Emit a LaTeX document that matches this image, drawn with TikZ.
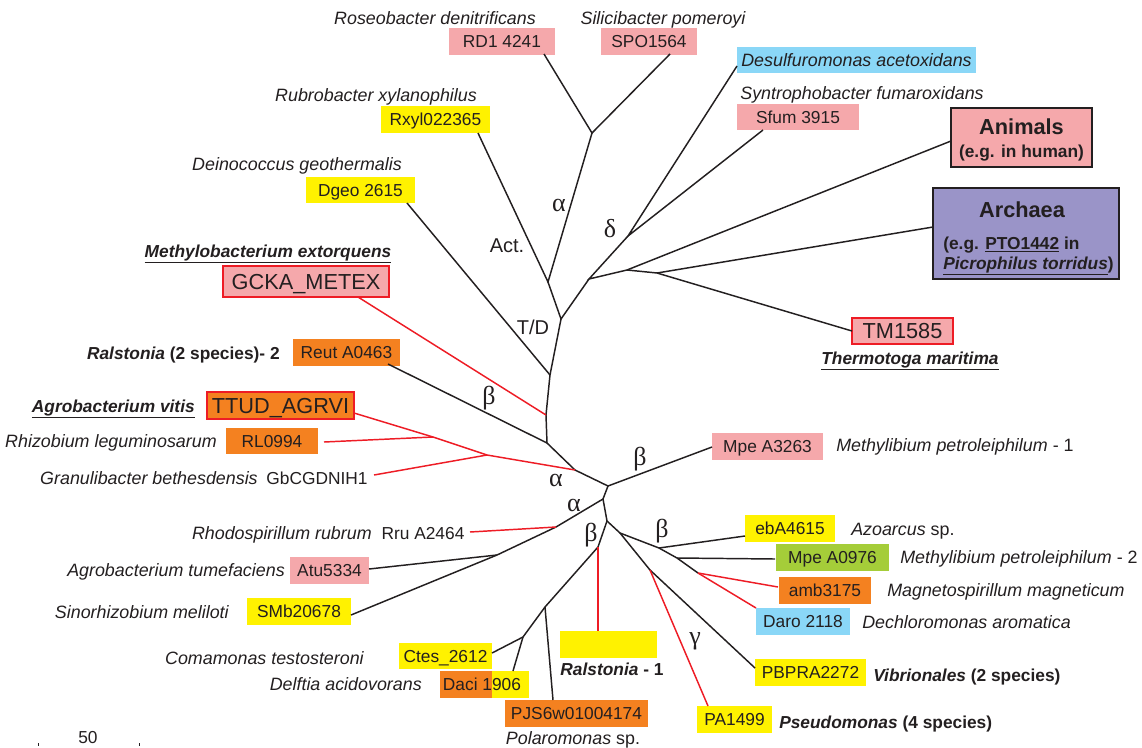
\documentclass[tikz,border=0pt]{standalone}
\usepackage{fontspec}
\setmainfont{Liberation Sans}
\newfontfamily\grkfont{Liberation Serif}
\definecolor{pinkc}{HTML}{F5A8AB}
\definecolor{yellowc}{HTML}{FFF200}
\definecolor{orangec}{HTML}{F48120}
\definecolor{bluec}{HTML}{8AD7F7}
\definecolor{greenc}{HTML}{A5CD39}
\definecolor{purplec}{HTML}{9A94C8}
\definecolor{redc}{HTML}{EE1C25}
\definecolor{txt}{HTML}{231F20}
\tikzset{
 branch/.style={line width=1.1pt, draw=txt},
 redbranch/.style={line width=1.1pt, draw=redc},
 lbl/.style={inner sep=0pt, text=txt, font=\fontsize{13}{15}\selectfont, text height=9.3pt, text depth=0pt},
 slbl/.style={lbl, font=\fontsize{13.4}{15}\selectfont, text height=9.6pt},
 ilbl/.style={lbl, font=\fontsize{13.4}{15}\selectfont\itshape, text height=9.6pt},
 blbl/.style={lbl, font=\fontsize{13}{15}\selectfont\bfseries},
 bilbl/.style={lbl, font=\fontsize{13}{15}\selectfont\bfseries\itshape},
 box/.style={lbl, minimum height=20.25pt},
 bigbox/.style={inner sep=0pt, text=txt, font=\fontsize{16.3}{18}\selectfont, text height=11.7pt, text depth=0pt, minimum height=23.25pt, draw=redc, line width=1.3pt},
 greek/.style={inner sep=0pt, text=txt, font=\fontsize{19.5}{21}\selectfont\grkfont},
 clade/.style={inner sep=0pt, text=txt, font=\fontsize{15}{17}\selectfont, text height=10.7pt, text depth=0pt}
}
\begin{document}
\begin{tikzpicture}[x=0.75pt,y=-0.75pt]
\useasboundingbox (0,0) rectangle (1142,747);
\fill[white] (0,0) rectangle (1142,747);

% ---- boxes ----
\node[box, fill=pinkc, minimum width=79.5pt] (rd1) at (502,41) {RD1 4241};
\node[box, fill=pinkc, minimum width=72pt] (spo) at (649,41) {SPO1564};
\node[box, fill=bluec, minimum width=179.25pt, minimum height=19.5pt, font=\fontsize{13.4}{15}\selectfont\itshape] (desulf) at (856.5,60) {Desulfuromonas acetoxidans};
\node[box, fill=pinkc, minimum width=91.5pt, minimum height=19.5pt] (sfum) at (798,117) {Sfum 3915\hspace{12pt}};
\node[draw=txt, line width=1.5pt, fill=pinkc, minimum width=105.75pt, minimum height=44.25pt, inner sep=0pt] (animals) at (1021.5,137.5) {};
\node[draw=txt, line width=1.5pt, fill=purplec, minimum width=139.5pt, minimum height=68.25pt, inner sep=0pt] (archaea) at (1026,233.5) {};
\node[bigbox, fill=pinkc, minimum width=75.75pt, minimum height=19.5pt] (tm) at (902.5,331) {TM1585};
\node[box, fill=yellowc, minimum width=81.75pt] (rxyl) at (435.5,119.5) {Rxyl022365};
\node[box, fill=yellowc, minimum width=81.75pt, minimum height=19.5pt] (dgeo) at (360.5,190) {Dgeo 2615};
\node[bigbox, fill=pinkc, minimum width=124.5pt] (gcka) at (306,281.5) {GCKA\_METEX};
\node[box, fill=orangec, minimum width=80.25pt] (reut) at (346.5,352.5) {Reut A0463};
\node[bigbox, fill=orangec, minimum width=110.25pt, minimum height=20.25pt] (ttud) at (280.5,405.5) {TTUD\_AGRVI};
\node[box, fill=orangec, minimum width=69pt, minimum height=19.5pt] (rl) at (272,441) {RL0994};
\node[box, fill=pinkc, minimum width=83.25pt] (mpea) at (767.5,446.5) {Mpe A3263};
\node[box, fill=yellowc, minimum width=67.5pt] (eba) at (790,528.5) {ebA4615};
\node[box, fill=greenc, minimum width=84.75pt] (mpeb) at (832.5,557.5) {Mpe A0976};
\node[box, fill=orangec, minimum width=69pt] (amb) at (825,590.5) {amb3175};
\node[box, fill=bluec, minimum width=70.5pt] (daro) at (803,621.5) {Daro 2118};
\node[box, fill=yellowc, minimum width=83.25pt] (pbpra) at (810.5,672.5) {PBPRA2272};
\node[box, fill=yellowc, minimum width=56.25pt] (pa) at (734.5,719.5) {PA1499};
\node[box, fill=pinkc, minimum width=59.25pt] (atu) at (329.5,570.5) {Atu5334};
\node[box, fill=yellowc, minimum width=78pt] (smb) at (299,611.5) {SMb20678};
\node[box, fill=yellowc, minimum width=69.75pt, minimum height=19.5pt] (ctes) at (445.5,656) {Ctes\_2612};
\fill[orangec] (440,671) rectangle (492,698);
\fill[yellowc] (492,671) rectangle (529,698);
\node[box, minimum width=66.75pt] (daci) at (482,684.5) {Daci 1906};
\node[box, fill=orangec, minimum width=107.25pt] (pjs) at (576.5,713.5) {PJS6w01004174};
\node[box, fill=yellowc, minimum width=72.75pt] (ralst) at (608.5,644.5) {};
\node[lbl] (gb) at (317,478) {GbCGDNIH1};
\node[lbl] (rru) at (423,533) {Rru A2464};

% ---- box texts (Animals / Archaea) ----
\node[inner sep=0pt, text=txt, font=\fontsize{16.3}{18}\selectfont\bfseries, text height=11.7pt, text depth=0pt] (animt) at (1021.5,127) {Animals};
\node[blbl] (animt2) at (1021.5,151) {(e.g. in human)};
\node[inner sep=0pt, text=txt, font=\fontsize{16.3}{18}\selectfont\bfseries, text height=11.7pt, text depth=0pt] (archt) at (1022,209.5) {Archaea};
\node[blbl, anchor=west] (archt2) at (943,243.5) {(e.g. \underline{PTO1442} in};
\node[blbl, anchor=west] (archt3) at (943,263) {\underline{\textit{Picrophilus torridus}})};

% ---- species labels ----
\node[ilbl] (l1) at (435,18) {Roseobacter denitrificans};
\node[ilbl] (l2) at (663,18) {Silicibacter pomeroyi};
\node[ilbl] (l3) at (862,93) {Syntrophobacter fumaroxidans};
\node[ilbl] (l4) at (376,95) {Rubrobacter xylanophilus};
\node[ilbl] (l5) at (297,164) {Deinococcus geothermalis};
\node[bilbl] (l6) at (268,251) {\underline{Methylobacterium extorquens}};
\node[bilbl] (l7) at (910,358) {\underline{Thermotoga maritima}};
\node[blbl, anchor=east] (l8) at (280,353) {\textit{Ralstonia} (2 species)- 2};
\node[bilbl, anchor=east] (l9) at (195,406) {\underline{Agrobacterium vitis}};
\node[ilbl, anchor=east] (l10) at (217,441) {Rhizobium leguminosarum};
\node[ilbl, anchor=east] (l11) at (258,478) {Granulibacter bethesdensis};
\node[ilbl, anchor=east] (l12) at (372,533) {Rhodospirillum rubrum};
\node[ilbl, anchor=east] (l13) at (285,570) {Agrobacterium tumefaciens};
\node[ilbl, anchor=east] (l14) at (229,612) {Sinorhizobium meliloti};
\node[ilbl, anchor=east] (l15) at (364,658) {Comamonas testosteroni};
\node[ilbl, anchor=east] (l16) at (422,684) {Delftia acidovorans};
\node[slbl] (l17) at (573,738) {\textit{Polaromonas} sp.};
\node[blbl] (l18) at (612,669) {\textit{Ralstonia} - 1};
\node[slbl, anchor=west] (r1) at (836,445) {\textit{Methylibium petroleiphilum} - 1};
\node[slbl, anchor=west] (r2) at (851,529) {\textit{Azoarcus} sp.};
\node[slbl, anchor=west] (r3) at (900,557) {\textit{Methylibium petroleiphilum} - 2};
\node[ilbl, anchor=west] (r4) at (887,590) {Magnetospirillum magneticum};
\node[ilbl, anchor=west] (r5) at (862,622) {Dechloromonas aromatica};
\node[blbl, anchor=west] (r6) at (873,675) {\textit{Vibrionales} (2 species)};
\node[blbl, anchor=west] (r7) at (779,722) {\textit{Pseudomonas} (4 species)};

% ---- clade labels ----
\node[greek] (g1) at (559,205) {α};
\node[greek] (g2) at (610,229) {δ};
\node[greek] (g3) at (489,398) {β};
\node[greek] (g4) at (640,459) {β};
\node[greek] (g5) at (556,480) {α};
\node[greek] (g6) at (574,505) {α};
\node[greek] (g7) at (591,535) {β};
\node[greek] (g8) at (662,531) {β};
\node[greek] (g9) at (695,641) {γ};
\node[clade] (act) at (507,245) {Act.};
\node[clade] (td) at (533,327) {T/D};
\node[lbl] (sc) at (88,737) {50};
\draw[txt, line width=0.6pt] (38,743) -- (38,746);
\draw[txt, line width=0.6pt] (139,743) -- (139,746);

% ---- junctions ----
\coordinate (A) at (561,319);
\coordinate (actJ) at (548,282);
\coordinate (alphaJ) at (592,133);
\coordinate (D0) at (589,279);
\coordinate (deltaJ) at (628,236);
\coordinate (E) at (627,270);
\coordinate (F) at (657,273);
\coordinate (t1) at (550,375);
\coordinate (t2) at (546,415);
\coordinate (G) at (547,443);
\coordinate (J) at (575,470);
\coordinate (H) at (608,486);
\coordinate (K) at (603,499);
\coordinate (L) at (607,521);
\coordinate (M) at (620,533);
\coordinate (N) at (659,548);
\coordinate (Q) at (677,558);
\coordinate (S) at (698,573);
\coordinate (P) at (650,570);
\coordinate (T1) at (556,527);
\coordinate (T2) at (497,555);
\coordinate (U) at (598,547);
\coordinate (V) at (545,607);
\coordinate (W) at (523,637);
\coordinate (R1) at (433,437);
\coordinate (R2) at (487,455);
% ---- branch ends ----
\coordinate (rd1e) at (544,54);
\coordinate (spoe) at (670,54);
\coordinate (desulfe) at (737,66);
\coordinate (sfume) at (763,130);
\coordinate (animalse) at (951,141);
\coordinate (archaeae) at (933,227);
\coordinate (tme) at (852,331);
\coordinate (rxyle) at (478,133);
\coordinate (dgeoe) at (407,203);
\coordinate (gckae) at (358,297);
\coordinate (reute) at (388,364);
\coordinate (ttude) at (354,413);
\coordinate (rle) at (324,442);
\coordinate (gbe) at (374,475);
\coordinate (mpeae) at (712,447);
\coordinate (ebae) at (745,536);
\coordinate (mpebe) at (775,559);
\coordinate (ambe) at (778,587);
\coordinate (daroe) at (756,608);
\coordinate (pbprae) at (755,668);
\coordinate (pae) at (708,706);
\coordinate (rrue) at (470,532);
\coordinate (atue) at (369,569);
\coordinate (smbe) at (351,615);
\coordinate (ctese) at (492,653);
\coordinate (dacie) at (513,671);
\coordinate (pjse) at (553,700);
\coordinate (ralste) at (598,631);

% ---- black branches ----
\draw[branch] (rd1e) -- (alphaJ) -- (spoe);
\draw[branch] (alphaJ) -- (actJ) -- (rxyle);
\draw[branch] (actJ) -- (A) -- (D0);
\draw[branch] (desulfe) -- (deltaJ) -- (sfume);
\draw[branch] (deltaJ) -- (D0) -- (E) -- (animalse);
\draw[branch] (E) -- (F) -- (archaeae);
\draw[branch] (F) -- (tme);
\draw[branch] (A) -- (t1) -- (t2) -- (G) -- (J) -- (H) -- (mpeae);
\draw[branch] (t1) -- (dgeoe);
\draw[branch] (G) -- (reute);
\draw[branch] (H) -- (K) -- (L) -- (M) -- (N) -- (Q) -- (S);
\draw[branch] (N) -- (ebae);
\draw[branch] (Q) -- (mpebe);
\draw[branch] (M) -- (P) -- (pbprae);
\draw[branch] (K) -- (T1) -- (T2) -- (smbe);
\draw[branch] (T2) -- (atue);
\draw[branch] (L) -- (U) -- (V) -- (W) -- (ctese);
\draw[branch] (W) -- (dacie);
\draw[branch] (V) -- (pjse);
% ---- red branches ----
\draw[redbranch] (t2) -- (gckae);
\draw[redbranch] (J) -- (R2) -- (R1) -- (ttude);
\draw[redbranch] (R1) -- (rle);
\draw[redbranch] (R2) -- (gbe);
\draw[redbranch] (S) -- (ambe);
\draw[redbranch] (S) -- (daroe);
\draw[redbranch] (P) -- (pae);
\draw[redbranch] (T1) -- (rrue);
\draw[redbranch] (U) -- (ralste);
\end{tikzpicture}
\end{document}
